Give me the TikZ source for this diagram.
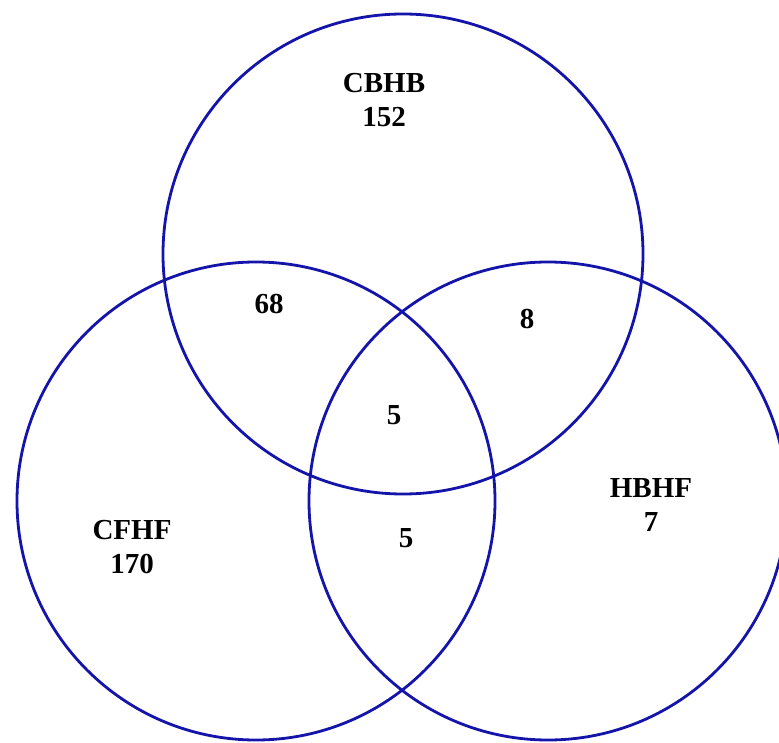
\documentclass[tikz,border=0pt]{standalone}
\usepackage{fontspec}
\setmainfont{Liberation Serif}
\definecolor{vennblue}{RGB}{20,20,170}
\tikzset{
  venn/.style={circle, draw=vennblue, line width=2.8pt, inner sep=0pt, minimum size=#1},
  lbl/.style={font=\fontsize{29}{34}\selectfont\bfseries, align=center, inner sep=0pt, text=black}
}
\begin{document}
\begin{tikzpicture}[x=1pt,y=-1pt]
\useasboundingbox (0,0) rectangle (779,743);
\clip (0,0) rectangle (779,743);
\fill[white] (0,0) rectangle (779,743);
\node[venn=480pt] (cbhb) at (403,254) {};
\node[venn=478pt] (cfhf) at (256,501) {};
\node[venn=478pt] (hbhf) at (548,501) {};
\node[lbl] (tcbhb) at (384,100) {CBHB\\152};
\node[lbl] (t68) at (269,304) {68};
\node[lbl] (t8) at (527,319) {8};
\node[lbl] (tc) at (394,415) {5};
\node[lbl] (tlow) at (406,538) {5};
\node[lbl] (tcfhf) at (132,547) {CFHF\\170};
\node[lbl] (thbhf) at (651,505) {HBHF\\7};
\end{tikzpicture}
\end{document}
